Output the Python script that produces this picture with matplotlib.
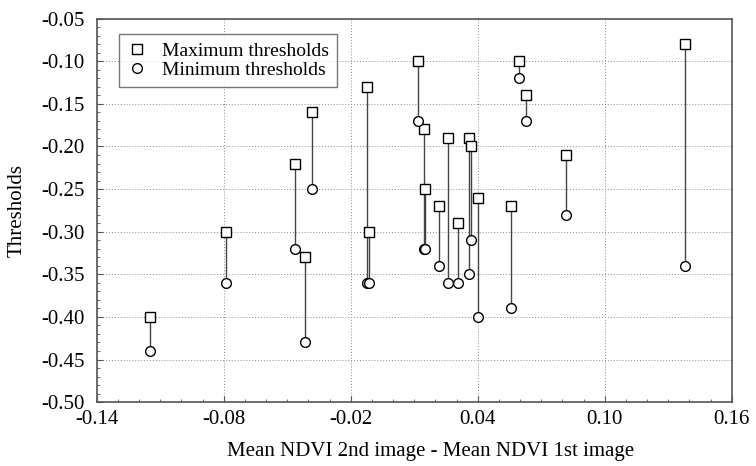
import numpy as np
import matplotlib
matplotlib.use("Agg")
from matplotlib import pyplot as plt
from matplotlib.ticker import MultipleLocator, FormatStrFormatter

plt.rcParams['font.family'] = ['Liberation Serif', 'DejaVu Serif']

# diferenca de NDVI medio (2a imagem - 1a imagem)
ndvi_diff = [-0.115, -0.079, -0.0465, -0.0415, -0.0385, -0.0125, -0.0115,
             0.0118, 0.0146, 0.015, 0.0217, 0.0257, 0.0307, 0.0357, 0.037,
             0.0403, 0.0558, 0.0595, 0.0627, 0.0815, 0.1378]
# limiares maximos e minimos
max_thr = [-0.40, -0.30, -0.22, -0.33, -0.16, -0.13, -0.30,
           -0.10, -0.18, -0.25, -0.27, -0.19, -0.29, -0.19, -0.20,
           -0.26, -0.27, -0.10, -0.14, -0.21, -0.08]
min_thr = [-0.44, -0.36, -0.32, -0.43, -0.25, -0.36, -0.36,
           -0.17, -0.32, -0.32, -0.34, -0.36, -0.36, -0.35, -0.31,
           -0.40, -0.39, -0.12, -0.17, -0.28, -0.34]
x_ticks = [-0.14, -0.08, -0.02, 0.04, 0.10, 0.16]

fig = plt.figure(figsize=(7.56, 4.66), dpi=100)
ax = fig.add_axes([0.128, 0.137, 0.840, 0.823])

# linhas verticais ligando max e min
ax.vlines(ndvi_diff, min_thr, max_thr, colors='#444444', linewidth=1.0, zorder=2)

ax.plot(ndvi_diff, max_thr, linestyle='none', marker='s', markersize=7,
        markerfacecolor='white', markeredgecolor='black', markeredgewidth=1.0,
        label='Maximum thresholds', zorder=3)
ax.plot(ndvi_diff, min_thr, linestyle='none', marker='o', markersize=7,
        markerfacecolor='white', markeredgecolor='black', markeredgewidth=1.0,
        label='Minimum thresholds', zorder=3)

ax.set_xlim(-0.14, 0.16)
ax.set_ylim(-0.50, -0.05)
ax.set_xticks(x_ticks)
ax.xaxis.set_minor_locator(MultipleLocator(0.01))
ax.yaxis.set_major_locator(MultipleLocator(0.05))
ax.yaxis.set_minor_locator(MultipleLocator(0.01))
ax.xaxis.set_major_formatter(FormatStrFormatter('%.2f'))
ax.yaxis.set_major_formatter(FormatStrFormatter('%.2f'))

ax.tick_params(which='both', direction='in', labelsize=15, color='#555555')
ax.tick_params(which='major', length=4, pad=6)
ax.tick_params(axis='y', which='major', pad=9)
ax.tick_params(which='minor', length=2)
ax.tick_params(axis='x', which='both', top=False)
ax.tick_params(axis='y', which='both', right=False)

ax.grid(True, which='major', linestyle=(0, (1, 2)), color='#888888', linewidth=0.7)
for s in ax.spines.values():
    s.set_color('#555555')
    s.set_linewidth(1.2)

ax.set_xlabel('Mean NDVI 2nd image - Mean NDVI 1st image', fontsize=15, labelpad=8)
ax.xaxis.set_label_coords(0.525, -0.105)
ax.set_ylabel('Thresholds', fontsize=15, labelpad=10)

leg = ax.legend(loc='upper left', fontsize=14, frameon=True, fancybox=False,
                edgecolor='#555555', handlelength=1.0, handletextpad=0.8,
                borderpad=0.4, labelspacing=0.1, bbox_to_anchor=(0.02, 0.985))
leg.get_frame().set_linewidth(1.0)

fig.savefig('out.png', dpi=100)
